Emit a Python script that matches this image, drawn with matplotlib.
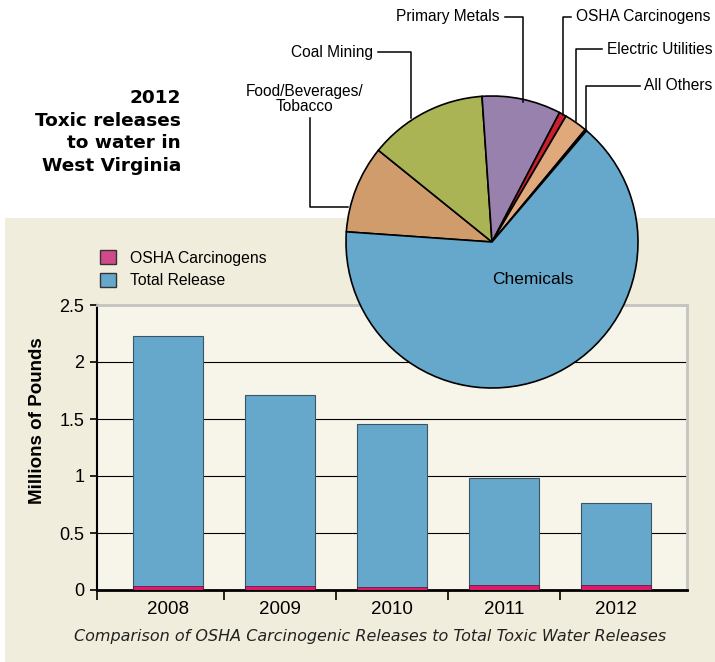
import numpy as np
import matplotlib
matplotlib.use("Agg")
import matplotlib.pyplot as plt
from matplotlib.lines import Line2D
from matplotlib.patches import Rectangle, Patch

plt.rcParams.update({
    "font.family": ["Liberation Sans", "DejaVu Sans"],
})

# bar data (millions of pounds)
years = ["2008", "2009", "2010", "2011", "2012"]
total_release = [2.23, 1.71, 1.455, 0.98, 0.76]
osha_carc = [0.035, 0.035, 0.03, 0.045, 0.045]

# pie data (% of 2012 releases), clockwise from Food
sectors = ["Food/Beverages/\nTobacco", "Coal Mining", "Primary Metals",
           "OSHA Carcinogens", "Electric Utilities", "All Others", "Chemicals"]
shares = [9.7, 13.1, 8.75, 0.8, 2.55, 0.2, 64.9]
pie_colors = ["#d19c6b", "#aab455", "#9881ad", "#c8202f", "#dfa97c",
              "#2b2b2b", "#66a8cc"]

W, H = 715, 662
fig = plt.figure(figsize=(W / 100, H / 100), dpi=100)


def fx(px):
    return px / W


def fy(py):
    return 1 - py / H


# beige panel
fig.add_artist(Rectangle((fx(5), 0), 1 - fx(5), fy(218), transform=fig.transFigure,
                         facecolor="#f1eddc", edgecolor="none", zorder=0))

# ---- bar chart ----
ax = fig.add_axes([fx(97), fy(590), fx(687) - fx(97), fy(305) - fy(590)])
ax.set_facecolor("#f7f5ea")
x = np.arange(len(years))
ax.bar(x, total_release, width=0.625, color="#66a8cc", edgecolor="#3c5566",
       linewidth=0.8, zorder=3)
ax.bar(x, osha_carc, width=0.625, color="#d81b6a", edgecolor="#5a1030",
       linewidth=0.5, zorder=4)
ax.set_xlim(-0.63, 4.63)
ax.set_ylim(0, 2.5)
ax.set_yticks([0, 0.5, 1, 1.5, 2, 2.5])
ax.set_yticklabels(["0", "0.5", "1", "1.5", "2", "2.5"], fontsize=13)
ax.yaxis.grid(True, color="black", lw=0.8, zorder=1)
ax.set_xticks(x)
ax.set_xticklabels(years, fontsize=13.5)
ax.set_xticks(np.arange(-0.5, 4.6, 1.0)[1:-1].tolist() + [-0.63], minor=True)
ax.tick_params(axis="x", which="major", length=0, pad=8)
ax.tick_params(axis="x", which="minor", length=7, width=1.2)
ax.tick_params(axis="y", length=5, width=1.2, pad=4)
ax.spines["left"].set_linewidth(1.5)
ax.spines["bottom"].set_linewidth(2)
ax.spines["top"].set_color("#c4c4c0")
ax.spines["top"].set_linewidth(2)
ax.spines["right"].set_color("#c4c4c0")
ax.spines["right"].set_linewidth(2)
ax.set_ylabel("Millions of Pounds", fontsize=13.5, fontweight="bold")
ax.yaxis.set_label_coords(-0.087, 0.595)

fig.text(fx(370), fy(636), "Comparison of OSHA Carcinogenic Releases to Total Toxic Water Releases",
         family="DejaVu Sans", style="italic", fontsize=11.5, color="#222222",
         ha="center", va="center")

handles = [Patch(facecolor="#cf4a8a", edgecolor="#333333", label="OSHA Carcinogens"),
           Patch(facecolor="#66a8cc", edgecolor="#333333", label="Total Release")]
fig.legend(handles=handles, loc="upper left", bbox_to_anchor=(fx(94), fy(244)),
           frameon=False, fontsize=11.3, handlelength=1.0, handleheight=1.0,
           handletextpad=0.9, labelspacing=0.45, borderaxespad=0)

# ---- pie ----
cx, cy, r = 492, 242, 146
pax = fig.add_axes([fx(cx - r), fy(cy + r), fx(2 * r), fy(0) - fy(2 * r)])
pax.pie(shares, colors=pie_colors, startangle=176, counterclock=False, radius=1,
        wedgeprops=dict(edgecolor="black", linewidth=1.2))
pax.set_xlim(-1.0, 1.0)
pax.set_ylim(-1.0, 1.0)
pax.set_aspect("auto")
pax.axis("off")
pax.text(0.28, -0.26, "Chemicals", fontsize=12.5, ha="center", va="center")

# leader lines: (label, polyline pixels, text pos, ha)
leaders = [
    ("Primary Metals", [(505, 17), (523, 17), (523, 102)], (500, 17), "right"),
    ("Coal Mining", [(378, 52), (411, 52), (411, 118)], (373, 52), "right"),
    ("Food/Beverages/\nTobacco", [(310, 118), (310, 207), (348, 207)], (305, 99), "center"),
    ("OSHA Carcinogens", [(571, 17), (563, 17), (563, 115)], (576, 17), "left"),
    ("Electric Utilities", [(602, 49), (576, 49), (576, 121)], (607, 49), "left"),
    ("All Others", [(640, 86), (586, 86), (586, 130)], (644, 86), "left"),
]
for lab, pts, tpos, ha in leaders:
    xs = [fx(p[0]) for p in pts]
    ys = [fy(p[1]) for p in pts]
    fig.add_artist(Line2D(xs, ys, transform=fig.transFigure, color="black", lw=1.1,
                          zorder=1))
    fig.text(fx(tpos[0]), fy(tpos[1]), lab, fontsize=11.2, ha=ha, va="center",
             linespacing=1.0, multialignment="center")

fig.text(fx(181), fy(132), "2012\nToxic releases\nto water in\nWest Virginia",
         family="DejaVu Sans", fontweight="bold", fontsize=13.3, ha="right",
         va="center", linespacing=1.35)

fig.savefig("out.png", dpi=100)
